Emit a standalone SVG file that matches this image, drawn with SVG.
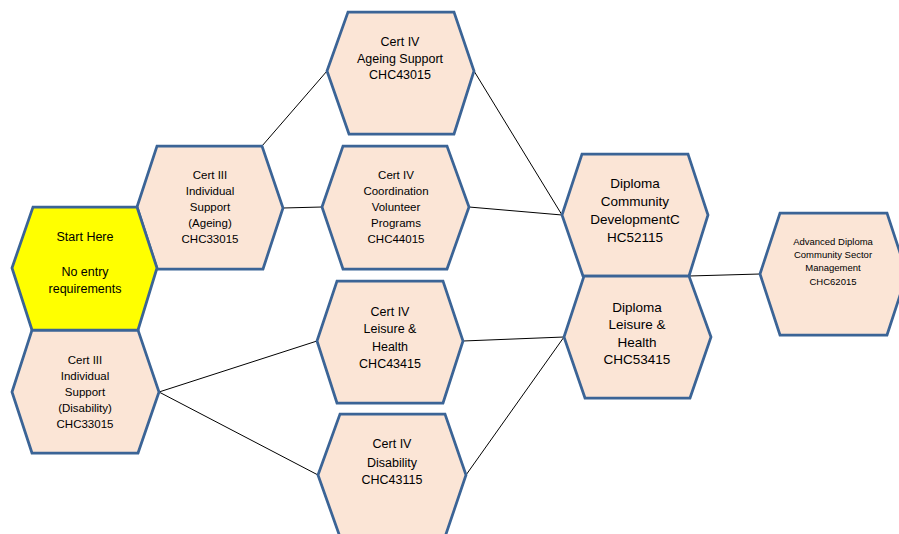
<svg xmlns="http://www.w3.org/2000/svg" width="899" height="534" viewBox="0 0 899 534">
<style>
.hex{fill:#FBE5D6;stroke:#3B6496;stroke-width:2.75;stroke-linejoin:miter}
.start{fill:#FFFF00}
.c{stroke:#000;stroke-width:1;fill:none}
text{font-family:"Liberation Sans",Arial,sans-serif;fill:#000;text-anchor:middle}
.s12{font-size:11.5px}
.s13{font-size:12.5px}
.s14{font-size:13.5px}
.s10{font-size:9.5px}
</style>
<rect width="899" height="534" fill="#fff"/>
<g id="connectors">
<line class="c" x1="262" y1="146" x2="327" y2="71"/>
<line class="c" x1="283" y1="208" x2="322" y2="207"/>
<line class="c" x1="474" y1="71" x2="562" y2="215"/>
<line class="c" x1="469" y1="207" x2="562" y2="215"/>
<line class="c" x1="689" y1="276" x2="760" y2="274"/>
<line class="c" x1="159" y1="392" x2="317" y2="341"/>
<line class="c" x1="159" y1="392" x2="318" y2="475"/>
<line class="c" x1="463" y1="341" x2="564" y2="337"/>
<line class="c" x1="466" y1="475" x2="564" y2="337"/>
</g>
<g id="cert3-ageing">
<polygon class="hex" points="137,207 157,146 262,146 283,208 263,269 157,269"/>
<text class="s12" x="210" y="179">Cert III</text>
<text class="s12" x="210" y="195">Individual</text>
<text class="s12" x="210" y="211">Support</text>
<text class="s12" x="210" y="227">(Ageing)</text>
<text class="s12" x="210" y="243">CHC33015</text>
</g>
<g id="cert3-disability">
<polygon class="hex" points="12,392 32,330 138,330 159,392 138,453 32,453"/>
<text class="s12" x="85" y="364">Cert III</text>
<text class="s12" x="85" y="380">Individual</text>
<text class="s12" x="85" y="396">Support</text>
<text class="s12" x="85" y="412">(Disability)</text>
<text class="s12" x="85" y="428">CHC33015</text>
</g>
<g id="start">
<polygon class="hex start" points="12,268 33,207 137,207 157,268 138,330 32,330"/>
<text class="s13" x="85" y="241">Start Here</text>
<text class="s13" x="85" y="276">No entry</text>
<text class="s13" x="85" y="293">requirements</text>
</g>
<g id="cert4-ageing">
<polygon class="hex" points="327,71 348,12 454,12 474,71 454,134 349,134"/>
<text class="s13" x="400" y="45.5">Cert IV</text>
<text class="s13" x="400" y="62.5">Ageing Support</text>
<text class="s13" x="400" y="79">CHC43015</text>
</g>
<g id="cert4-coordination">
<polygon class="hex" points="322,207 343,146 447,146 469,207 447,269 343,269"/>
<text class="s12" x="396" y="179">Cert IV</text>
<text class="s12" x="396" y="195">Coordination</text>
<text class="s12" x="396" y="211">Volunteer</text>
<text class="s12" x="396" y="227">Programs</text>
<text class="s12" x="396" y="243">CHC44015</text>
</g>
<g id="cert4-leisure">
<polygon class="hex" points="317,341 337,281 443,281 463,341 443,403 337,403"/>
<text class="s13" x="390" y="315.5">Cert IV</text>
<text class="s13" x="390" y="332.5">Leisure &amp;</text>
<text class="s13" x="390" y="350.5">Health</text>
<text class="s13" x="390" y="367.5">CHC43415</text>
</g>
<g id="cert4-disability">
<polygon class="hex" points="318,475 340,414 445,414 466,475 445,537 340,537"/>
<text class="s13" x="392" y="447.5">Cert IV</text>
<text class="s13" x="392" y="466.5">Disability</text>
<text class="s13" x="392" y="483.5">CHC43115</text>
</g>
<g id="diploma-community">
<polygon class="hex" points="562,215 582,154 688,154 708,215 689,276 583,276"/>
<text class="s14" x="635" y="188">Diploma</text>
<text class="s14" x="635" y="206">Community</text>
<text class="s14" x="635" y="224">DevelopmentC</text>
<text class="s14" x="635" y="242">HC52115</text>
</g>
<g id="diploma-leisure">
<polygon class="hex" points="564,337 584,276 689,276 711,337 690,398 585,398"/>
<text class="s14" x="637" y="311.5">Diploma</text>
<text class="s14" x="637" y="329">Leisure &amp;</text>
<text class="s14" x="637" y="346.5">Health</text>
<text class="s14" x="637" y="364">CHC53415</text>
</g>
<g id="advanced-diploma">
<polygon class="hex" points="760,274 780,213 887,213 907,274 887,335 780,335"/>
<text class="s10" x="833" y="244.5">Advanced Diploma</text>
<text class="s10" x="833" y="257.5">Community Sector</text>
<text class="s10" x="833" y="270.5">Management</text>
<text class="s10" x="833" y="284.5">CHC62015</text>
</g>
</svg>
